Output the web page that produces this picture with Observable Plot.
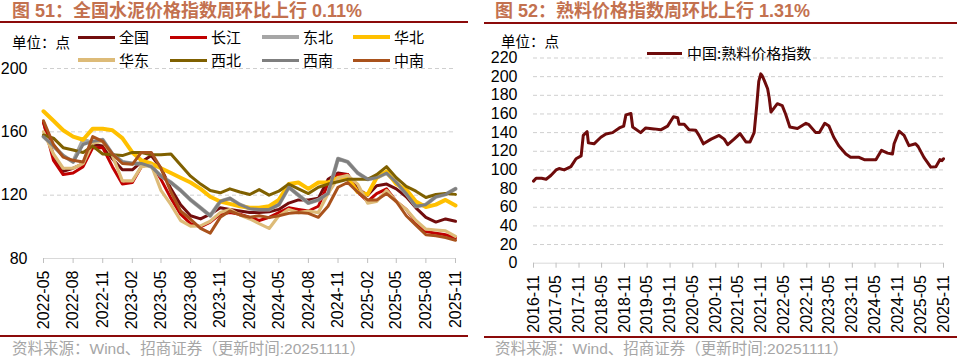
<!DOCTYPE html>
<html><head><meta charset="utf-8">
<script src="https://cdn.jsdelivr.net/npm/d3@7"></script>
<script src="https://cdn.jsdelivr.net/npm/@observablehq/plot@0.6"></script>
<style>
body{margin:0;background:#fff;}
#wrap{position:relative;width:957px;height:357px;background:#fff;overflow:hidden;font-family:'Liberation Sans','Noto Sans CJK SC',sans-serif;}
.title{position:absolute;top:2px;font-size:18px;line-height:18px;font-weight:bold;color:#C3714F;white-space:nowrap;font-family:'Liberation Sans','Noto Sans CJK SC',sans-serif;}
.rule{position:absolute;height:2px;background:#8B0A0A;}
.src{position:absolute;top:341px;font-size:15.5px;line-height:16px;color:#A6A6A6;white-space:nowrap;font-family:'Liberation Sans','Noto Sans CJK SC',sans-serif;}
.unit{position:absolute;font-size:14.5px;line-height:15px;color:#000;white-space:nowrap;font-family:'Noto Sans CJK SC',sans-serif;z-index:2;}
.lg{position:absolute;z-index:2;font-size:15px;line-height:16px;white-space:nowrap;font-family:'Noto Sans CJK SC',sans-serif;color:#000;}
.lg span.sw{position:absolute;left:0;width:37px;}
.lg span.tx{position:absolute;top:-8px;}
.plot{position:absolute;z-index:1;}
</style></head>
<body><div id="wrap">
<div class="title" style="left:12px;">图 51：全国水泥价格指数周环比上行 0.11%</div>
<div class="rule" style="left:0;top:21px;width:468px;"></div>
<div class="title" style="left:495px;">图 52：熟料价格指数周环比上行 1.31%</div>
<div class="rule" style="left:484px;top:22px;width:473px;"></div>
<div class="unit" style="left:12px;top:34px;">单位：点</div>
<div class="unit" style="left:501px;top:33px;">单位：点</div>
<div id="legL"></div>
<div id="legR"></div>
<div id="plotL" class="plot" style="left:0;top:64px;"></div>
<div id="plotR" class="plot" style="left:480px;top:50px;"></div>
<div class="rule" style="left:0;top:335px;width:468px;"></div>
<div class="rule" style="left:484px;top:336px;width:473px;"></div>
<div class="src" style="left:12px;">资料来源：Wind、招商证券（更新时间:20251111）</div>
<div class="src" style="left:495px;">资料来源：Wind、招商证券（更新时间:20251111）</div>
</div>
<script>
// ---------- Left chart: cement price index by region ----------
const cementMonths = ["2022-05","2022-06","2022-07","2022-08","2022-09","2022-10","2022-11","2022-12",
"2023-01","2023-02","2023-03","2023-04","2023-05","2023-06","2023-07","2023-08","2023-09","2023-10","2023-11","2023-12",
"2024-01","2024-02","2024-03","2024-04","2024-05","2024-06","2024-07","2024-08","2024-09","2024-10","2024-11","2024-12",
"2025-01","2025-02","2025-03","2025-04","2025-05","2025-06","2025-07","2025-08","2025-09","2025-10","2025-11"];
const seriesNames = ["全国","长江","东北","华北","华东","西北","西南","中南"];
const national  = [166,145,135,137,140,152,151,143,136,136,141,145,137,124,114,107,105,108,112,111,110,109,109,109.5,111,115,117,117,118,130,134,133,124,120,126,127,124,119,112,106,103,105,103.5];
const yangtze   = [166,142,133,134,138,150,150,138,127,128,138,140,130,118,108,102,100,103,108,109,108,106,104,106,109,112,111,110,113,127,133,133,122,116,121,124,116,111,103,97,96,95,93];
const northeast = [157,151,145,141,155,153,155,146,141,140,140,138,132,128,123,117,112,107,116,118,114,111.5,111,111,114,125,120,115,117,121,143,141,134,130,131,134,128,121,113,114,119,120.5,124];
const north     = [173,167,161,157,155,162,162,161,156,147,142,140,137,134,131,128,124,119,116,114.5,113,112,112,113,117,127,128,124,128,128,131,131,122,120.5,131,135,127,123.5,116,112.5,114,117,113.5];
const east      = [160,146,137,137,140,153,154,145,129,129,138,139,123,114,104,100.5,100.6,103.5,109,111,107.5,105,102,99,107,111,109,110,109,121,131,132.5,127,115,116,123,116,111,104,98.5,98,97.5,94];
const northwest = [158,156,150,148.5,147,151,146,145.5,145,147,147,145.5,145.5,146,139,132,127,123,121.5,124,122,120.4,123.5,120,122.5,127,124,121,125,127,128.5,130,130,130,133,138,131,125.6,122.5,118.5,120.4,121,120.5];
const southwest = [157,151,145,141,152,154,155,146,141,140,140,138,132,128,123,117,112,107,116,118,114,111.5,111,111,114,125,120,115,117,121,143,141,134,130,131,134,128,121,113,114,119,120.5,124];
const central   = [167,152,144,142,141,157,154,146,140,139.5,147,147,137,122,110,104.8,99,96,106,110,107.5,106,107,105.8,107,108.5,109,108.5,106,113,125,128,122,117,117,121,116,107,101,95,94.4,93.3,91.5];
const leftTickLabels = ["2022-05","2022-08","2022-11","2023-02","2023-05","2023-08","2023-11","2024-02","2024-05","2024-08","2024-11","2025-02","2025-05","2025-08","2025-11"];
const leftYTicks = [80,120,160,200];

const seriesValues = [national,yangtze,northeast,north,east,northwest,southwest,central];
const seriesColors = ["#720D0D","#C00000","#A6A6A6","#FFC000","#DDBB78","#7F6000","#7F7F7F","#A9521C"];
const seriesWidths = [3,3,4,4,3.2,3,3,3];

// ---------- Right chart: clinker price index ----------
const clinkerDates = ["2016-11-01","2016-11-22","2017-01-05","2017-02-10","2017-03-20","2017-05-01","2017-05-25","2017-07-05","2017-08-28","2017-10-08","2017-11-18","2017-12-05","2018-01-05","2018-01-15","2018-03-01","2018-04-25","2018-06-05","2018-07-28","2018-09-20","2018-10-25","2018-11-12","2018-12-22","2019-01-05","2019-03-10","2019-04-20","2019-06-25","2019-08-18","2019-10-12","2019-11-28","2020-01-01","2020-01-12","2020-02-22","2020-04-01","2020-05-25","2020-06-20","2020-07-25","2020-09-25","2020-11-28","2021-01-08","2021-02-05","2021-03-28","2021-05-15","2021-07-01","2021-08-03","2021-09-05","2021-09-25","2021-10-12","2021-10-28","2021-11-08","2021-11-25","2021-12-22","2022-01-03","2022-01-18","2022-03-10","2022-04-18","2022-05-15","2022-06-18","2022-08-18","2022-10-25","2022-11-18","2023-01-12","2023-02-10","2023-03-25","2023-04-28","2023-06-05","2023-07-15","2023-09-10","2023-10-18","2023-12-25","2024-02-05","2024-05-08","2024-06-22","2024-08-10","2024-09-18","2024-10-01","2024-11-10","2024-12-20","2025-01-28","2025-03-22","2025-04-12","2025-05-28","2025-07-22","2025-09-01","2025-10-03","2025-10-20","2025-11-01"];
const clinkerValues = [88,91,91,90,94,100,101.5,100,103.5,112,115,137,141,129,128,135,138.5,140,145,147,159,160.5,146,140,145,144,143,147,157,156,149,149,143,142.5,137,128,133,137,133,127,133,139,130,130,140,168,195,203,201,196,187,178,162,171,169,160,146,144.5,150,148.5,140,140,150,147,135,126,117,113.5,113.5,111,111,121,118,117,128,141.5,137,126,128,125,113.5,103,103.5,111,110,112];
const rightTickLabels = ["2016-11","2017-05","2017-11","2018-05","2018-11","2019-05","2019-11","2020-05","2020-11","2021-05","2021-11","2022-05","2022-11","2023-05","2023-11","2024-05","2024-11","2025-05","2025-11"];
const rightYTicks = [0,20,40,60,80,100,120,140,160,180,200,220];
const clinkerName = "中国:熟料价格指数";

const parseM = d3.utcParse("%Y-%m");
const parseD = d3.utcParse("%Y-%m-%d");
const fmt = d3.utcFormat("%Y-%m");
const font = "'Liberation Sans', Arial, sans-serif";

// Left legend
const legL = document.getElementById("legL");
const legPos = [[78,37],[170,37],[262,37],[353,37],[78,60],[170,60],[262,60],[353,60]];
seriesNames.forEach((n,i)=>{
  const d = document.createElement("div");
  d.className = "lg";
  d.style.left = legPos[i][0]+"px"; d.style.top = legPos[i][1]+"px";
  d.innerHTML = `<span class="sw" style="top:${-seriesWidths[i]/2}px;height:${seriesWidths[i]}px;background:${seriesColors[i]}"></span><span class="tx" style="left:41px">${n}</span>`;
  legL.appendChild(d);
});
// Right legend
const legR = document.getElementById("legR");
{
  const d = document.createElement("div");
  d.className = "lg";
  d.style.left = "647px"; d.style.top = "53px";
  d.innerHTML = `<span class="sw" style="top:-1.5px;height:3px;width:35px;background:#6E0B0B"></span><span class="tx" style="left:40px">${clinkerName}</span>`;
  legR.appendChild(d);
}

// Left plot
const leftData = [];
seriesNames.forEach((n,i)=>cementMonths.forEach((m,j)=>leftData.push({series:n, date:parseM(m), value:seriesValues[i][j]})));
const leftMarks = [
  Plot.ruleY([120,160,200], {stroke:"#CFCFCF", strokeDasharray:"4,3", strokeWidth:1}),
  Plot.ruleY([80], {stroke:"#D9D9D9", strokeWidth:1}),
  Plot.axisX({ticks:leftTickLabels.map(parseM), tickFormat:fmt, tickRotate:-90, tickSize:5, tickPadding:7, stroke:"#BFBFBF", fill:"#000", label:null}),
  Plot.axisY({ticks:leftYTicks, tickSize:0, tickPadding:16, fill:"#000", label:null})
];
seriesNames.forEach((n,i)=>{
  leftMarks.push(Plot.line(leftData.filter(d=>d.series===n), {x:"date", y:"value", stroke:seriesColors[i], strokeWidth:seriesWidths[i], strokeLinejoin:"round"}));
});
const pl = Plot.plot({
  width:470, height:276, marginLeft:43, marginRight:15, marginTop:4, marginBottom:82,
  x:{type:"utc", domain:[parseM("2022-05"), parseM("2025-11")]},
  y:{domain:[80,200]},
  style:{fontFamily:font, fontSize:"16px", background:"transparent", color:"#000", overflow:"visible"},
  marks:leftMarks
});
document.getElementById("plotL").appendChild(pl);

// Right plot
const rightData = clinkerDates.map((d,i)=>({date:parseD(d), value:clinkerValues[i]}));
const pr = Plot.plot({
  width:477, height:290, marginLeft:53, marginRight:14, marginTop:7.5, marginBottom:77.3,
  x:{type:"utc", domain:[parseM("2016-11"), parseM("2025-11")]},
  y:{domain:[0,220]},
  style:{fontFamily:font, fontSize:"16px", background:"transparent", color:"#000", overflow:"visible"},
  marks:[
    Plot.ruleY(rightYTicks.filter(v=>v>0), {stroke:"#CFCFCF", strokeDasharray:"4,3", strokeWidth:1}),
    Plot.ruleY([0], {stroke:"#D9D9D9", strokeWidth:1}),
    Plot.axisX({ticks:rightTickLabels.map(parseM), tickFormat:fmt, tickRotate:-90, tickSize:5, tickPadding:7, stroke:"#BFBFBF", fill:"#000", label:null}),
    Plot.axisY({ticks:rightYTicks, tickSize:0, tickPadding:16, fill:"#000", label:null}),
    Plot.line(rightData, {x:"date", y:"value", stroke:"#6E0B0B", strokeWidth:3, strokeLinejoin:"round"})
  ]
});
document.getElementById("plotR").appendChild(pr);
</script>
</body></html>
